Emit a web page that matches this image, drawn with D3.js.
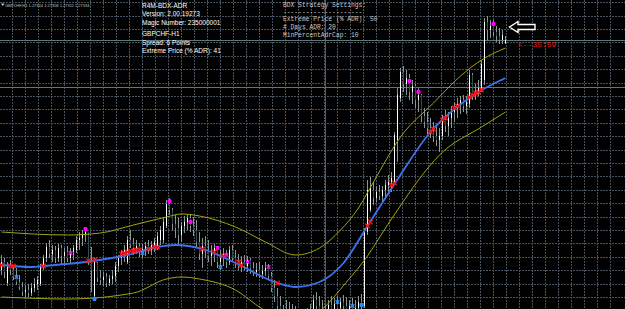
<!DOCTYPE html>
<html>
<head>
<meta charset="utf-8">
<script src="https://cdn.jsdelivr.net/npm/d3@7"></script>
<style>
  html, body { margin: 0; padding: 0; background: #000; }
  svg { display: block; }
</style>
</head>
<body>
<svg id="chart" width="625" height="309"></svg>
<script>
// GBPCHF H1 candles (bar index = position from the left)
const opens = [
  1.2503,1.2511,1.2490,1.2506,1.2503,1.2496,1.2491,1.2486,1.2481,1.2483,
  1.2480,1.2485,1.2489,1.2489,1.2507,1.2515,1.2526,1.2519,1.2523,1.2515,
  1.2525,1.2517,1.2521,1.2515,1.2521,1.2523,1.2533,1.2535,1.2539,1.2541,
  1.2511,1.2477,1.2510,1.2495,1.2493,1.2496,1.2490,1.2494,1.2497,1.2507,
  1.2515,1.2519,1.2511,1.2533,1.2529,1.2525,1.2527,1.2521,1.2524,1.2527,
  1.2523,1.2528,1.2527,1.2533,1.2533,1.2547,1.2569,1.2563,1.2549,1.2545,
  1.2538,1.2547,1.2551,1.2555,1.2547,1.2543,1.2531,1.2519,1.2527,1.2523,
  1.2517,1.2521,1.2525,1.2511,1.2515,1.2519,1.2511,1.2523,1.2515,1.2511,
  1.2507,1.2511,1.2507,1.2513,1.2505,1.2501,1.2503,1.2499,1.2502,1.2505,
  1.2497,1.2485,1.2477,1.2467,1.2459,1.2455,1.2463,1.2457,1.2453,1.2449,
  1.2445,1.2447,1.2451,1.2455,1.2461,1.2473,1.2467,1.2463,1.2459,1.2455,
  1.2468,1.2463,1.2469,1.2465,1.2471,1.2467,1.2463,1.2467,1.2461,1.2465,
  1.2471,1.2467,1.2541,1.2563,1.2583,1.2575,1.2581,1.2577,1.2583,1.2588,
  1.2591,1.2590,1.2633,1.2675,1.2701,1.2689,1.2695,1.2681,1.2687,1.2673,
  1.2678,1.2657,1.2651,1.2645,1.2641,1.2637,1.2633,1.2637,1.2653,1.2647,
  1.2655,1.2661,1.2665,1.2669,1.2673,1.2667,1.2669,1.2698,1.2679,1.2681,
  1.2685,1.2693,1.2751,1.2743,1.2747,1.2741,1.2737,1.2733,1.2730]
const highs = [
  1.2518,1.2515,1.2511,1.2513,1.2508,1.2505,1.2498,1.2491,1.2488,1.2489,
  1.2490,1.2495,1.2497,1.2509,1.2518,1.2530,1.2533,1.2528,1.2527,1.2529,
  1.2528,1.2525,1.2527,1.2525,1.2528,1.2537,1.2541,1.2543,1.2546,1.2541,
  1.2526,1.2515,1.2511,1.2503,1.2501,1.2500,1.2498,1.2503,1.2511,1.2518,
  1.2523,1.2528,1.2537,1.2543,1.2535,1.2533,1.2530,1.2529,1.2531,1.2533,
  1.2532,1.2535,1.2541,1.2547,1.2555,1.2573,1.2575,1.2565,1.2558,1.2555,
  1.2551,1.2557,1.2558,1.2559,1.2556,1.2553,1.2541,1.2535,1.2537,1.2533,
  1.2528,1.2529,1.2527,1.2523,1.2525,1.2523,1.2527,1.2528,1.2523,1.2519,
  1.2517,1.2518,1.2517,1.2515,1.2511,1.2510,1.2511,1.2508,1.2511,1.2509,
  1.2501,1.2493,1.2485,1.2477,1.2468,1.2473,1.2471,1.2469,1.2467,1.2463,
  1.2461,1.2461,1.2465,1.2469,1.2478,1.2481,1.2477,1.2473,1.2468,1.2473,
  1.2477,1.2475,1.2477,1.2475,1.2478,1.2476,1.2473,1.2475,1.2473,1.2477,
  1.2479,1.2545,1.2593,1.2596,1.2591,1.2587,1.2588,1.2587,1.2593,1.2598,
  1.2601,1.2641,1.2685,1.2705,1.2707,1.2703,1.2699,1.2693,1.2689,1.2685,
  1.2679,1.2665,1.2661,1.2655,1.2651,1.2649,1.2645,1.2658,1.2663,1.2661,
  1.2667,1.2671,1.2675,1.2677,1.2678,1.2677,1.2703,1.2700,1.2689,1.2693,
  1.2713,1.2755,1.2757,1.2753,1.2753,1.2747,1.2745,1.2743,1.2737]
const lows = [
  1.2498,1.2495,1.2487,1.2498,1.2493,1.2488,1.2483,1.2477,1.2475,1.2476,
  1.2477,1.2481,1.2483,1.2487,1.2503,1.2511,1.2515,1.2511,1.2510,1.2511,
  1.2509,1.2507,1.2511,1.2510,1.2513,1.2520,1.2523,1.2527,1.2531,1.2508,
  1.2481,1.2473,1.2491,1.2488,1.2487,1.2486,1.2487,1.2489,1.2491,1.2501,
  1.2508,1.2511,1.2509,1.2525,1.2518,1.2519,1.2516,1.2515,1.2517,1.2519,
  1.2518,1.2521,1.2523,1.2528,1.2530,1.2545,1.2558,1.2543,1.2535,1.2528,
  1.2531,1.2540,1.2543,1.2541,1.2537,1.2525,1.2513,1.2505,1.2515,1.2511,
  1.2507,1.2511,1.2505,1.2503,1.2507,1.2505,1.2508,1.2511,1.2505,1.2503,
  1.2501,1.2503,1.2501,1.2499,1.2497,1.2496,1.2495,1.2494,1.2497,1.2493,
  1.2481,1.2471,1.2461,1.2455,1.2451,1.2448,1.2447,1.2445,1.2443,1.2441,
  1.2439,1.2441,1.2445,1.2448,1.2453,1.2458,1.2455,1.2451,1.2448,1.2451,
  1.2455,1.2453,1.2455,1.2453,1.2457,1.2455,1.2453,1.2453,1.2451,1.2455,
  1.2461,1.2465,1.2538,1.2561,1.2568,1.2571,1.2573,1.2571,1.2575,1.2578,
  1.2581,1.2588,1.2611,1.2671,1.2681,1.2678,1.2673,1.2669,1.2665,1.2661,
  1.2651,1.2645,1.2639,1.2635,1.2631,1.2627,1.2621,1.2633,1.2641,1.2637,
  1.2645,1.2651,1.2655,1.2659,1.2661,1.2659,1.2665,1.2673,1.2673,1.2677,
  1.2681,1.2688,1.2733,1.2735,1.2737,1.2731,1.2729,1.2729,1.2729]
const closes = [
  1.2511,1.2501,1.2506,1.2503,1.2496,1.2491,1.2486,1.2481,1.2483,1.2480,
  1.2485,1.2489,1.2493,1.2507,1.2515,1.2526,1.2519,1.2523,1.2515,1.2525,
  1.2517,1.2521,1.2515,1.2521,1.2525,1.2533,1.2535,1.2539,1.2541,1.2511,
  1.2503,1.2511,1.2495,1.2493,1.2496,1.2490,1.2494,1.2497,1.2507,1.2515,
  1.2519,1.2523,1.2533,1.2529,1.2525,1.2527,1.2521,1.2524,1.2527,1.2523,
  1.2528,1.2531,1.2537,1.2543,1.2551,1.2569,1.2563,1.2549,1.2545,1.2538,
  1.2547,1.2551,1.2555,1.2547,1.2543,1.2531,1.2519,1.2527,1.2523,1.2517,
  1.2521,1.2525,1.2511,1.2515,1.2519,1.2511,1.2523,1.2515,1.2511,1.2507,
  1.2511,1.2507,1.2513,1.2505,1.2501,1.2503,1.2499,1.2502,1.2505,1.2497,
  1.2485,1.2477,1.2467,1.2459,1.2455,1.2463,1.2457,1.2453,1.2449,1.2445,
  1.2447,1.2451,1.2455,1.2461,1.2473,1.2467,1.2463,1.2459,1.2455,1.2468,
  1.2463,1.2469,1.2465,1.2471,1.2467,1.2463,1.2467,1.2461,1.2465,1.2471,
  1.2467,1.2541,1.2583,1.2585,1.2575,1.2581,1.2577,1.2583,1.2588,1.2591,
  1.2595,1.2638,1.2678,1.2701,1.2689,1.2695,1.2681,1.2687,1.2673,1.2678,
  1.2657,1.2651,1.2645,1.2641,1.2637,1.2633,1.2637,1.2653,1.2647,1.2655,
  1.2661,1.2665,1.2669,1.2673,1.2667,1.2671,1.2698,1.2679,1.2681,1.2685,
  1.2709,1.2751,1.2743,1.2747,1.2741,1.2737,1.2733,1.2738,1.2733]

// indicator lines (sampled along the bars)
const maIdx  = [0,10,14,28,42,52,58,67,78,92,98,106,114,122,131,143,151,159,168]
const maVals = [1.2508,1.2506,1.2507,1.2511,1.2518,1.2526,1.2528,1.2524,1.2510,1.2490,
                1.2486,1.2491,1.2510,1.2547,1.2589,1.2641,1.2664,1.2681,1.2695]
const upIdx  = [0,22,33,44,55,60,66,78,88,98,106,113,119,124,133,144,153,160,168]
const upVals = [1.2541,1.2538,1.2540,1.2548,1.2556,1.2559,1.2557,1.2546,1.2531,1.2518,
                1.2525,1.2543,1.2565,1.2591,1.2636,1.2670,1.2697,1.2713,1.2725]
const loIdx  = [0,22,44,55,60,66,78,87,95,101,107,115,122,128,132,139,146,160,168]
const loVals = [1.2476,1.2474,1.2480,1.2494,1.2496,1.2494,1.2483,1.2464,1.2453,1.2451,
                1.2464,1.2491,1.2517,1.2545,1.2563,1.2593,1.2618,1.2646,1.2661]

// signal markers
const redIdx  = [0,3,4,14,29,31,40,41,42,43,44,45,46,49,51,52,67,71,74,79,80,92,
                 122,123,130,131,143,144,147,148,151,152,156,157,158,159,160]
const redVals = [1.2508,1.2507,1.2507,1.2507,1.2512,1.2513,1.2519,1.2520,1.2521,1.2522,
                 1.2522,1.2523,1.2523,1.2524,1.2526,1.2526,1.2524,1.2521,1.2517,1.2511,
                 1.2508,1.2490,1.2547,1.2551,1.2588,1.2590,1.2641,1.2644,1.2653,1.2655,
                 1.2665,1.2667,1.2676,1.2678,1.2680,1.2681,1.2683]
const magDotIdx    = [28,56,63,136,139,164]
const magDotVals   = [1.2544,1.2572,1.2551,1.2692,1.2681,1.2749]
const magCrossIdx  = [23,72,75,82,89]
const magCrossVals = [1.2520,1.2525,1.2518,1.2511,1.2506]
const blueCrossIdx  = [5,47,73,112,117]
const blueCrossVals = [1.2496,1.2520,1.2506,1.2471,1.2467]
const blueDotIdx  = [31,120]
const blueDotVals = [1.2474,1.2468]

const levelLines = [1.2733, 1.2686]
const separatorBars = [108]

const headerText = 'GBPCHF,H1 1.27344 1.27358 1.27311 1.27334'
const infoLines = ['R4M-BDX-ADR', 'Version: 2.00.19273', 'Magic Number: 235000001',
                   'GBPCHF-H1', 'Spread: 6 Points', 'Extreme Price (% ADR): 41']
const settingsLines = ['BDX Strategy Settings:', '---------------------',
                       'Extreme Price (% ADR): 50', '# Days ADR: 20', 'MinPercentAdrCap: 10']
const countdown = '<--35:59'

const W = 625, H = 309
const svg = d3.select('#chart')
svg.append('rect').attr('width', W).attr('height', H).attr('fill', '#000')

const x = d3.scaleLinear().domain([0, 168]).range([1.5, 505.5])
const y = d3.scaleLinear().domain([1.2464, 1.2773]).range([H, 0])

// dotted grid
const grid = svg.append('g')
    .attr('stroke', '#46525e')
    .attr('stroke-dasharray', '2,1')
d3.range(47).forEach(k => {
    let gx = Math.round(12.7 + 13 * k) - 0.5
    grid.append('line').attr('x1', gx).attr('x2', gx).attr('y1', 0).attr('y2', H)
})
d3.range(23).forEach(k => {
    let gy = Math.round(2.2 + 13.4 * k) + 0.5
    grid.append('line').attr('x1', 0).attr('x2', W).attr('y1', gy).attr('y2', gy)
})

// period separator + price level lines
svg.append('g').selectAll('line').data(separatorBars).join('line')
    .attr('x1', d => x(d)).attr('x2', d => x(d))
    .attr('y1', 0).attr('y2', H)
    .attr('stroke', '#4a6262')
svg.append('g').selectAll('line').data(levelLines).join('line')
    .attr('x1', 0).attr('x2', W)
    .attr('y1', d => Math.round(y(d)) + 0.5).attr('y2', d => Math.round(y(d)) + 0.5)
    .attr('stroke', '#5f7777')

// candles
const bars = opens.map((o, i) => ({ i, o, h: highs[i], l: lows[i], c: closes[i] }))
const gBars = svg.append('g')
gBars.selectAll('.wick').data(bars).join('line')
    .attr('class', 'wick')
    .attr('x1', d => x(d.i)).attr('x2', d => x(d.i))
    .attr('y1', d => y(d.h)).attr('y2', d => y(d.l))
    .attr('stroke', '#8a9595')
gBars.selectAll('.body').data(bars).join('line')
    .attr('class', 'body')
    .attr('x1', d => x(d.i)).attr('x2', d => x(d.i))
    .attr('y1', d => y(Math.max(d.o, d.c)))
    .attr('y2', d => Math.max(y(Math.min(d.o, d.c)), y(Math.max(d.o, d.c)) + 1))
    .attr('stroke', d => d.c >= d.o ? '#ffffff' : '#2f4f4f')

// bands and moving average
const line = d3.line().x(d => x(d[0])).y(d => y(d[1])).curve(d3.curveMonotoneX)
svg.append('path').attr('d', line(d3.zip(upIdx, upVals)))
    .attr('fill', 'none').attr('stroke', '#a3a312').attr('stroke-width', 1)
svg.append('path').attr('d', line(d3.zip(loIdx, loVals)))
    .attr('fill', 'none').attr('stroke', '#a3a312').attr('stroke-width', 1)
svg.append('path').attr('d', line(d3.zip(maIdx, maVals)))
    .attr('fill', 'none').attr('stroke', '#3d72f0').attr('stroke-width', 1.8)

// markers
function crosses(idx, vals, color, r) {
    svg.append('g').selectAll('path').data(d3.zip(idx, vals)).join('path')
        .attr('transform', d => `translate(${x(d[0])},${y(d[1])})`)
        .attr('d', `M${-r},${-r}L${r},${r}M${-r},${r}L${r},${-r}`)
        .attr('stroke', color).attr('stroke-width', 1.4).attr('fill', 'none')
}
function dots(idx, vals, color, r) {
    svg.append('g').selectAll('circle').data(d3.zip(idx, vals)).join('circle')
        .attr('cx', d => x(d[0])).attr('cy', d => y(d[1])).attr('r', r)
        .attr('fill', color)
}
crosses(redIdx, redVals, '#ff1010', 2.2)
crosses(magCrossIdx, magCrossVals, '#ff00ff', 1.8)
crosses(blueCrossIdx, blueCrossVals, '#1e90ff', 1.8)
dots(magDotIdx, magDotVals, '#ff00ff', 2.2)
dots(blueDotIdx, blueDotVals, '#1e90ff', 2.2)

// outlined arrow pointing at the last signal
svg.append('path')
    .attr('d', 'M509.5,27 L518,21.5 L518,24.5 L535,24.5 L535,29.5 L518,29.5 L518,32.5 Z')
    .attr('fill', '#000').attr('stroke', '#ffffff').attr('stroke-width', 1.4)

// countdown label next to the bid line
svg.append('text')
    .attr('x', 518).attr('y', y(levelLines[0]) + 7)
    .attr('font-family', '"Liberation Mono", monospace').attr('font-size', 8)
    .attr('fill', '#e01818')
    .text(countdown)

// top-left header
svg.append('path').attr('d', 'M1,3.5 L4.5,3.5 L2.75,6 Z').attr('fill', '#d0d0d0')
svg.append('text')
    .attr('x', 5).attr('y', 6.5)
    .attr('font-family', '"Liberation Sans", Arial, sans-serif').attr('font-size', 4)
    .attr('fill', '#c0c0c0')
    .text(headerText)

// EA info block
const infoY = [7.5, 16, 24.5, 36, 44.5, 53]
svg.append('g').selectAll('text').data(infoLines).join('text')
    .attr('x', 142).attr('y', (d, i) => infoY[i])
    .attr('font-family', '"Liberation Sans", Arial, sans-serif').attr('font-size', 6.5)
    .attr('fill', '#ffffff')
    .text(d => d)

// strategy settings block
const setY = [7, 13.5, 21, 29, 37]
svg.append('g').selectAll('text').data(settingsLines).join('text')
    .attr('x', 283).attr('y', (d, i) => setY[i])
    .attr('font-family', '"Liberation Mono", monospace').attr('font-size', 6.3)
    .attr('fill', '#c8c8c8')
    .text(d => d)
</script>
</body>
</html>
